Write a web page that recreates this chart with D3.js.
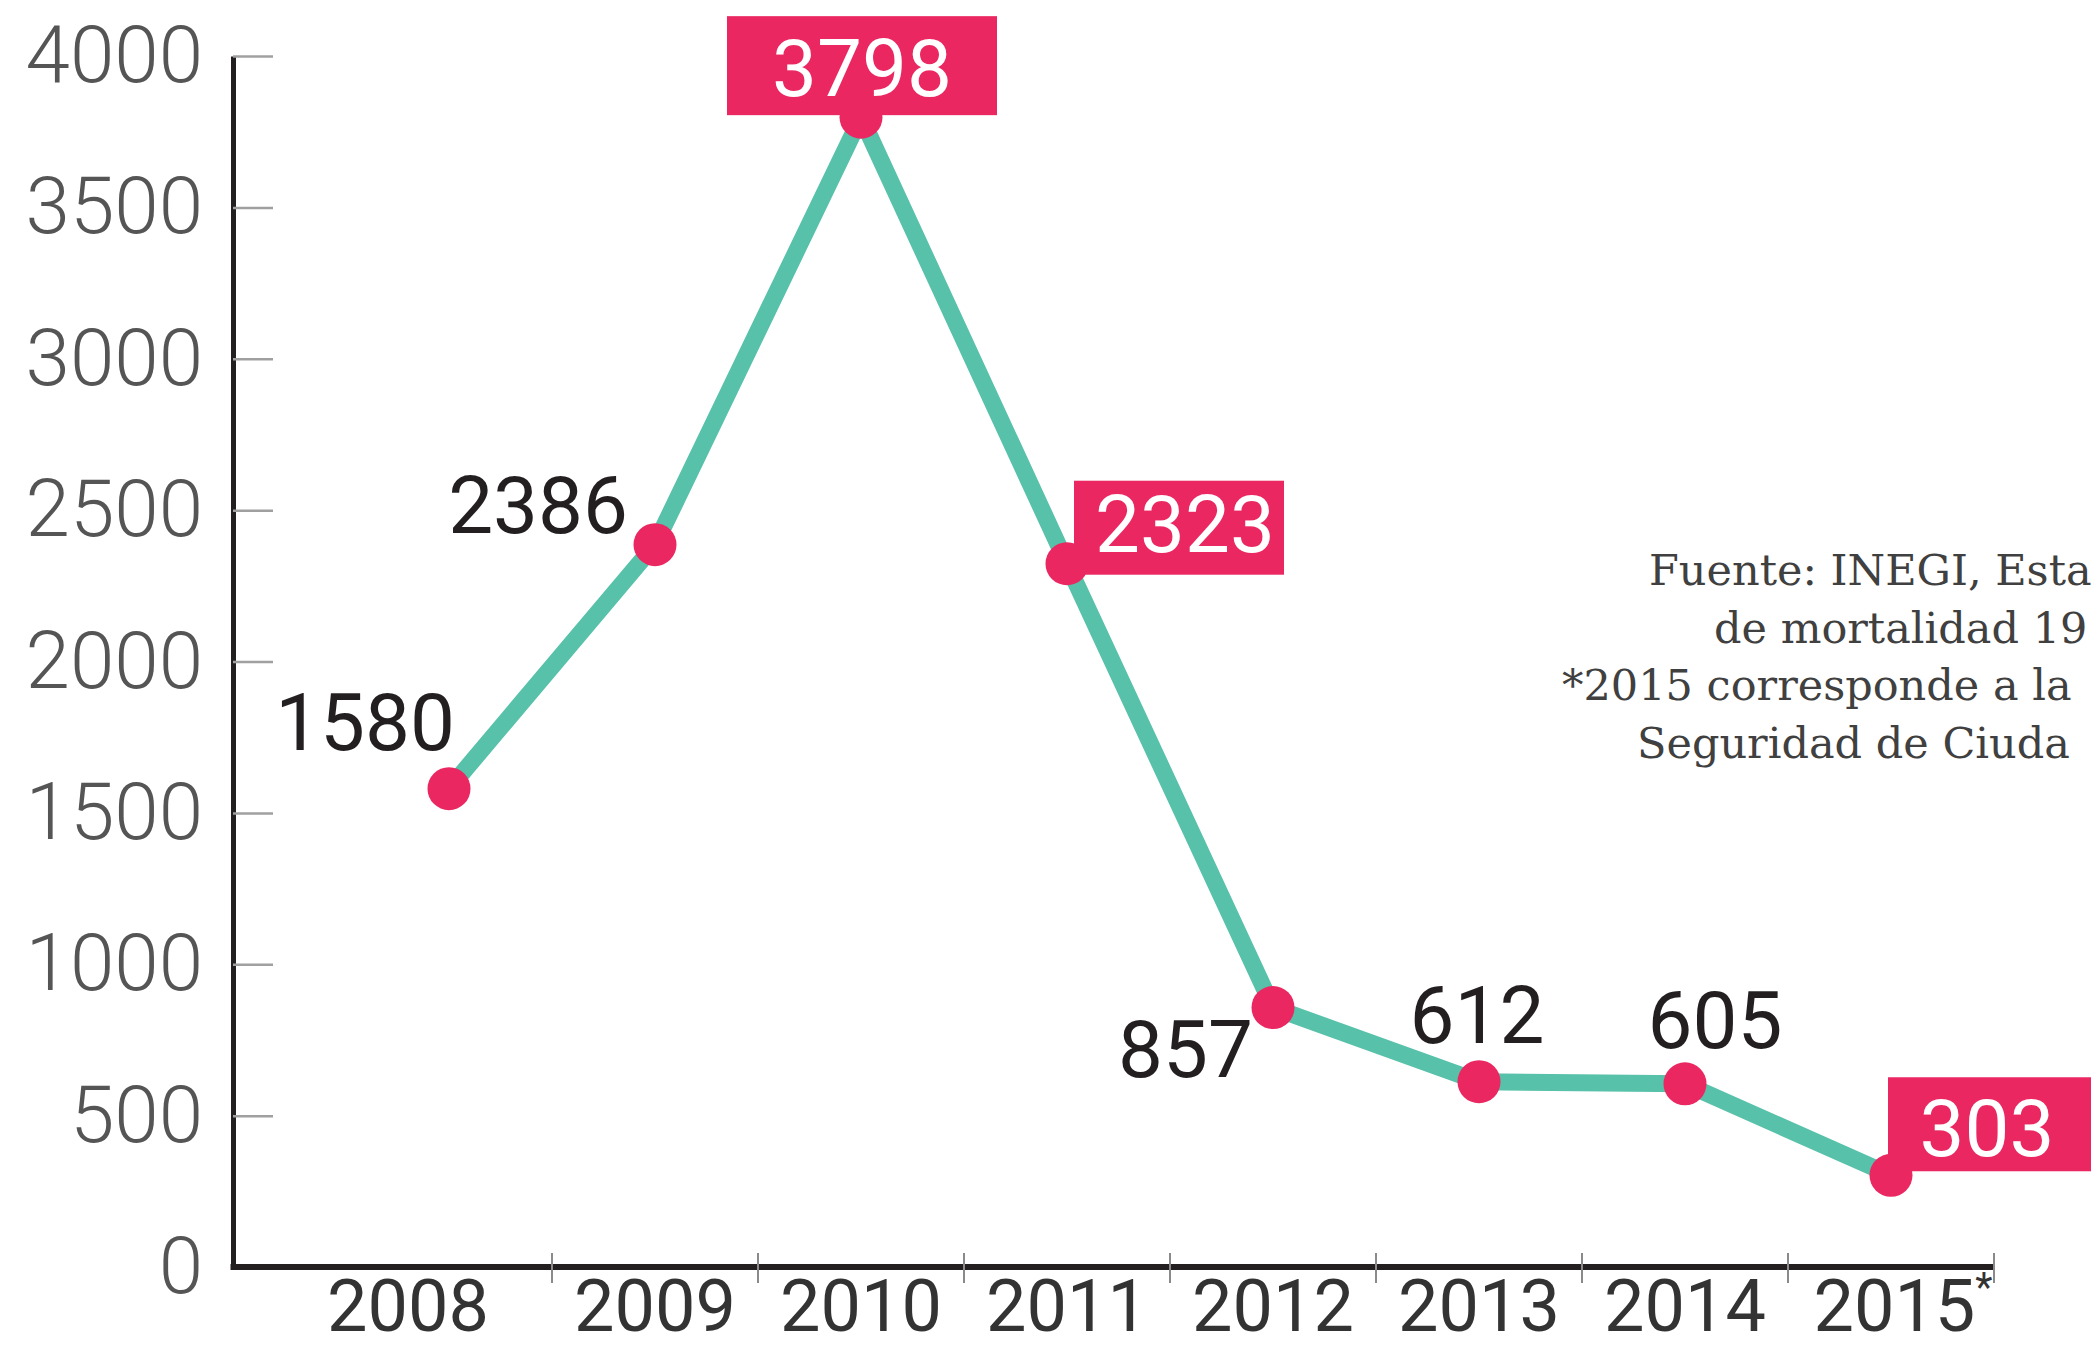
<!DOCTYPE html>
<html>
<head>
<meta charset="utf-8">
<script src="https://cdn.jsdelivr.net/npm/d3@7"></script>
<style>
  html, body { margin: 0; padding: 0; background: #ffffff; overflow: hidden; }
  svg { display: block; }
</style>
</head>
<body>
<svg id="chart" width="2091" height="1351"></svg>
<script>
// ---------- data ----------
const years = ["2008", "2009", "2010", "2011", "2012", "2013", "2014", "2015"];
const yearLabels = ["2008", "2009", "2010", "2011", "2012", "2013", "2014", "2015*"];
const values = [1580, 2386, 3798, 2323, 857, 612, 605, 303];
const yTicks = [0, 500, 1000, 1500, 2000, 2500, 3000, 3500, 4000];
const highlightedYears = ["2010", "2011", "2015"];
const sourceLines = [
  "Fuente: INEGI, Esta",
  "de mortalidad 19",
  "*2015 corresponde a la",
  "Seguridad de Ciuda"
];

// ---------- layout / style ----------
const W = 2091, H = 1351;
const PINK = "#eb2762", TEAL = "#57c1a9", INK = "#231f20";
const axisX = 233;            // vertical axis position
const plotTop = 56, plotBottom = 1267;

// label placement relative to each point (layout, not data)
const labelLayout = {
  "2008": { anchor: "end",    dx: 6,   dy: -39 },
  "2009": { anchor: "end",    dx: -27, dy: -12 },
  "2012": { anchor: "end",    dx: -20, dy: 69 },
  "2013": { anchor: "middle", dx: -2,  dy: -39 },
  "2014": { anchor: "middle", dx: 30,  dy: -36 }
};
const boxLayout = {
  "2010": { bx: -134, by: -101, bw: 270, bh: 99, tx: 1,   ty: -21 },
  "2011": { bx: 7,    by: -83,  bw: 210, bh: 94, tx: 118, ty: -12 },
  "2015": { bx: -3,   by: -98,  bw: 230, bh: 94, tx: 96,  ty: -19 }
};

const svg = d3.select("#chart");
svg.append("rect").attr("width", W).attr("height", H).attr("fill", "#fff");

const x = d3.scaleBand().domain(years).range([346, 1994]).padding(0);
const y = d3.scaleLinear().domain([0, 4000]).range([plotBottom, plotTop]);
const cx = yr => x(yr) + x.bandwidth() / 2;

const data = years.map((yr, i) => ({ year: yr, value: values[i], label: yearLabels[i] }));

// ---------- y axis ----------
const yAxis = svg.append("g")
  .attr("transform", `translate(${axisX},0)`)
  .call(d3.axisLeft(y).tickValues(yTicks).tickFormat(d3.format("d"))
    .tickSizeInner(-40).tickSizeOuter(0).tickPadding(30));
yAxis.select(".domain").attr("stroke", INK).attr("stroke-width", 5);
yAxis.selectAll(".tick line").attr("stroke", "#a0a0a0").attr("stroke-width", 2.5);
yAxis.selectAll(".tick text")
  .attr("fill", "#555")
  .style("font-family", "Roboto, 'Open Sans', sans-serif")
  .style("font-weight", 300)
  .style("font-size", "80px");

// ---------- x axis ----------
const xAxis = svg.append("g").attr("transform", `translate(0,${plotBottom})`);
xAxis.append("line")
  .attr("x1", axisX - 2.5).attr("x2", x.range()[1])
  .attr("y1", 0).attr("y2", 0)
  .attr("stroke", INK).attr("stroke-width", 6);
xAxis.selectAll("line.xtick")
  .data(years)
  .join("line")
  .attr("class", "xtick")
  .attr("x1", d => x(d) + x.bandwidth()).attr("x2", d => x(d) + x.bandwidth())
  .attr("y1", -14).attr("y2", 16)
  .attr("stroke", "#8a8a8a").attr("stroke-width", 2);

const yearText = xAxis.selectAll("text.year")
  .data(data)
  .join("text")
  .attr("class", "year")
  .attr("x", (d, i) => cx(d.year) + (i === 0 ? -41 : 0) + (d.label.endsWith("*") ? 12 : 0))
  .attr("y", 64)
  .attr("text-anchor", "middle")
  .attr("fill", "#333")
  .style("font-family", "Roboto, 'Open Sans', sans-serif")
  .style("font-weight", 400)
  .style("font-size", "72px");
yearText.append("tspan").text(d => d.label.replace("*", ""));
yearText.filter(d => d.label.endsWith("*"))
  .append("tspan")
  .attr("dy", -30)
  .style("font-size", "40px")
  .text("*");

// ---------- line ----------
const line = d3.line().x(d => cx(d.year)).y(d => y(d.value));
svg.append("path")
  .datum(data)
  .attr("d", line)
  .attr("fill", "none")
  .attr("stroke", TEAL)
  .attr("stroke-width", 17)
  .attr("stroke-linejoin", "round");

// ---------- highlight boxes ----------
const boxes = svg.selectAll("g.hbox")
  .data(data.filter(d => highlightedYears.includes(d.year)))
  .join("g")
  .attr("class", "hbox")
  .attr("transform", d => `translate(${cx(d.year)},${y(d.value)})`);
boxes.append("rect")
  .attr("x", d => boxLayout[d.year].bx)
  .attr("y", d => boxLayout[d.year].by)
  .attr("width", d => boxLayout[d.year].bw)
  .attr("height", d => boxLayout[d.year].bh)
  .attr("fill", PINK);
boxes.append("text")
  .attr("x", d => boxLayout[d.year].tx)
  .attr("y", d => boxLayout[d.year].ty)
  .attr("text-anchor", "middle")
  .attr("fill", "#fff")
  .style("font-family", "Roboto, 'Open Sans', sans-serif")
  .style("font-weight", 400)
  .style("font-size", "80px")
  .text(d => d.value);

// ---------- dots ----------
svg.selectAll("circle.dot")
  .data(data)
  .join("circle")
  .attr("class", "dot")
  .attr("cx", d => cx(d.year))
  .attr("cy", d => y(d.value))
  .attr("r", 21.5)
  .attr("fill", PINK);

// ---------- plain value labels ----------
svg.selectAll("text.val")
  .data(data.filter(d => labelLayout[d.year]))
  .join("text")
  .attr("class", "val")
  .attr("x", d => cx(d.year) + labelLayout[d.year].dx)
  .attr("y", d => y(d.value) + labelLayout[d.year].dy)
  .attr("text-anchor", d => labelLayout[d.year].anchor)
  .attr("fill", INK)
  .style("font-family", "Roboto, 'Open Sans', sans-serif")
  .style("font-weight", 400)
  .style("font-size", "80px")
  .text(d => d.value);

// ---------- source note ----------
const srcX = [1649, 1714, 1562, 1637];
svg.append("g").selectAll("text")
  .data(sourceLines)
  .join("text")
  .attr("x", (d, i) => srcX[i])
  .attr("y", (d, i) => 585 + i * 57.7)
  .attr("fill", "#404040")
  .style("font-family", "'DejaVu Serif', serif")
  .style("font-size", "43px")
  .text(d => d);
</script>
</body>
</html>
